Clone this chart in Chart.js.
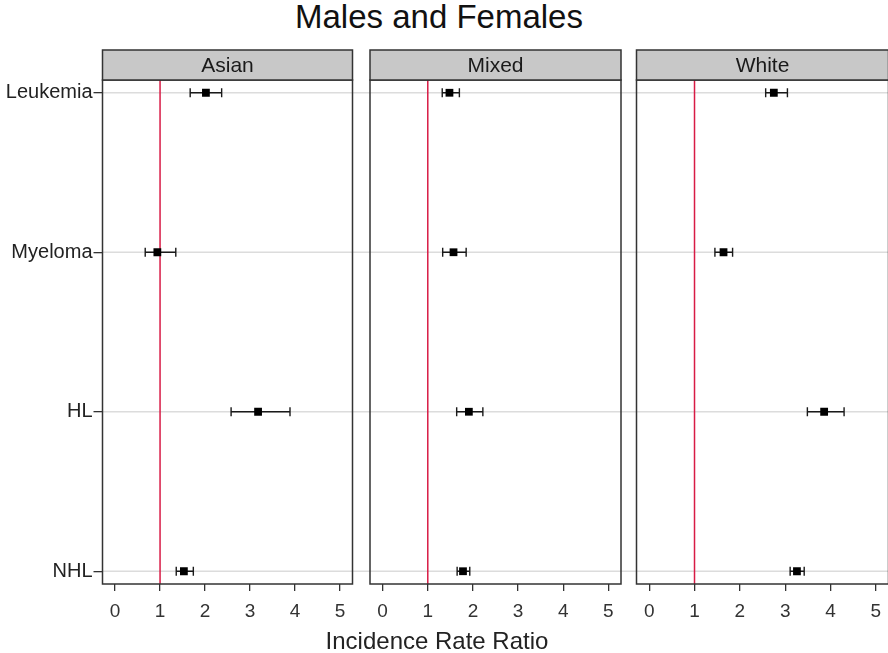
<!DOCTYPE html>
<html>
<head>
<meta charset="utf-8">
<script src="https://cdn.jsdelivr.net/npm/chart.js@4.4.0/dist/chart.umd.min.js"></script>
<style>
  html, body { margin: 0; padding: 0; background: #fff; overflow: hidden; }
  #wrap { position: relative; width: 888px; height: 653px; overflow: hidden; font-family: "Liberation Sans", Arial, sans-serif; color: #111; }
  canvas { position: absolute; top: 0; }
  #title { position: absolute; left: 0; width: 878px; top: -1px; text-align: center; font-size: 33px; line-height: 36px; }
  #xlabel { position: absolute; left: 0; width: 874px; top: 627px; text-align: center; font-size: 24px; line-height: 28px; color: #222; }
</style>
</head>
<body>
<div id="wrap">
  <div id="title">Males and Females</div>
  <canvas id="pAsian" width="361" height="653" style="left:0px"></canvas>
  <canvas id="pMixed" width="268" height="653" style="left:361px"></canvas>
  <canvas id="pWhite" width="266" height="653" style="left:629px"></canvas>
  <div id="xlabel">Incidence Rate Ratio</div>
</div>
<script>
// ---- data ----
const outcomes = ["Leukemia", "Myeloma", "HL", "NHL"];
const groups = ["Asian", "Mixed", "White"];
const xTicks = [0, 1, 2, 3, 4, 5];
const refLine = 1;

const asianIrr   = [2.02, 0.94, 3.18, 1.53];
const asianLower = [1.67, 0.67, 2.58, 1.36];
const asianUpper = [2.37, 1.35, 3.89, 1.74];

const mixedIrr   = [1.48, 1.57, 1.91, 1.78];
const mixedLower = [1.32, 1.33, 1.64, 1.65];
const mixedUpper = [1.70, 1.85, 2.22, 1.93];

const whiteIrr   = [2.75, 1.64, 3.86, 3.26];
const whiteLower = [2.57, 1.45, 3.49, 3.11];
const whiteUpper = [3.05, 1.84, 4.30, 3.42];

Chart.defaults.font.family = '"Liberation Sans", Arial, sans-serif';

// ---- one facet panel ----
function makePanel(canvasId, idx, irr, lower, upper, padLeft, padRight) {
  const panelPlugin = {
    id: "panel" + idx,
    beforeDatasetsDraw(chart) {
      const { ctx, chartArea: a, scales: { x, y } } = chart;
      ctx.save();
      // horizontal guide lines, run across the gaps between facets
      ctx.strokeStyle = "#dcdcdc";
      ctx.lineWidth = 1.5;
      y.ticks.forEach(t => {
        const py = y.getPixelForValue(t.value);
        ctx.beginPath();
        ctx.moveTo(idx === 0 ? a.left : 0, py);
        ctx.lineTo(chart.width, py);
        ctx.stroke();
      });
      // reference line at IRR = 1
      const rx = x.getPixelForValue(refLine);
      ctx.strokeStyle = "#d81b45";
      ctx.lineWidth = 1.5;
      ctx.beginPath();
      ctx.moveTo(rx, a.top);
      ctx.lineTo(rx, a.bottom);
      ctx.stroke();
      // confidence intervals
      ctx.strokeStyle = "#1a1a1a";
      ctx.lineWidth = 1.4;
      lower.forEach((lo, i) => {
        const py = y.getPixelForValue(i);
        const x1 = x.getPixelForValue(lo);
        const x2 = x.getPixelForValue(upper[i]);
        ctx.beginPath();
        ctx.moveTo(x1, py); ctx.lineTo(x2, py);
        ctx.moveTo(x1, py - 4.5); ctx.lineTo(x1, py + 4.5);
        ctx.moveTo(x2, py - 4.5); ctx.lineTo(x2, py + 4.5);
        ctx.stroke();
      });
      ctx.restore();
    },
    afterDraw(chart) {
      const { ctx, chartArea: a } = chart;
      const w = a.right - a.left;
      ctx.save();
      ctx.strokeStyle = "#333";
      ctx.lineWidth = 1.5;
      ctx.strokeRect(a.left, a.top, w, a.bottom - a.top);
      // strip
      ctx.fillStyle = "#c8c8c8";
      ctx.fillRect(a.left, a.top - 30, w, 30);
      ctx.strokeRect(a.left, a.top - 30, w, 30);
      ctx.fillStyle = "#1a1a1a";
      ctx.font = '21px "Liberation Sans", Arial, sans-serif';
      ctx.textAlign = "center";
      ctx.textBaseline = "middle";
      ctx.fillText(groups[idx], a.left + w / 2, a.top - 14);
      ctx.restore();
    }
  };

  return new Chart(document.getElementById(canvasId), {
    type: "scatter",
    data: {
      datasets: [{
        data: irr.map((v, i) => ({ x: v, y: i })),
        pointStyle: "rect",
        pointRadius: 5.5,
        backgroundColor: "#000",
        borderColor: "#000",
        borderWidth: 0
      }]
    },
    options: {
      responsive: false,
      animation: false,
      layout: { padding: { left: padLeft, right: padRight, top: 80, bottom: 29 } },
      plugins: { legend: { display: false }, tooltip: { enabled: false } },
      scales: {
        x: {
          type: "linear",
          min: -0.28,
          max: 5.28,
          afterBuildTicks: s => { s.ticks = xTicks.map(v => ({ value: v })); },
          afterFit: s => { s.height = 40; },
          grid: { drawOnChartArea: false, tickLength: 7, color: "#333", lineWidth: 1.3 },
          border: { display: false },
          ticks: { color: "#333", padding: 9, font: { size: 19 } }
        },
        y: {
          type: "linear",
          reverse: true,
          min: -0.08,
          max: 3.08,
          display: idx === 0,
          afterBuildTicks: s => { s.ticks = outcomes.map((_, i) => ({ value: i })); },
          afterFit: s => { s.width = idx === 0 ? 102.5 : 0; },
          grid: { drawOnChartArea: false, tickLength: 9, color: "#333", lineWidth: 1.3 },
          border: { display: false },
          ticks: { color: "#222", padding: 1, font: { size: 20 }, callback: v => outcomes[v] }
        }
      }
    },
    plugins: [panelPlugin]
  });
}

makePanel("pAsian", 0, asianIrr, asianLower, asianUpper, 0, 8.5);
makePanel("pMixed", 1, mixedIrr, mixedLower, mixedUpper, 9, 8);
makePanel("pWhite", 2, whiteIrr, whiteLower, whiteUpper, 7.5, 6.5);
</script>
</body>
</html>
